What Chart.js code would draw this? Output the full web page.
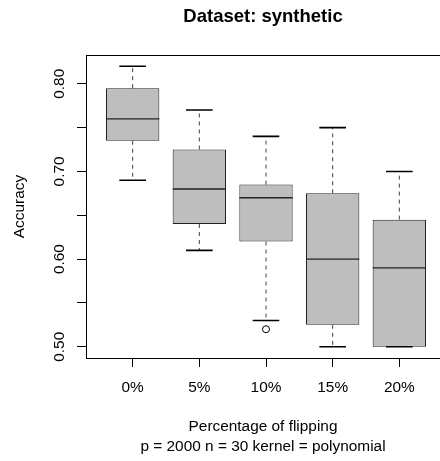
<!DOCTYPE html>
<html>
<head>
<meta charset="utf-8">
<title>Dataset: synthetic</title>
<script src="https://cdn.jsdelivr.net/npm/chart.js@4.4.1/dist/chart.umd.min.js"></script>
<style>
  html, body { margin: 0; padding: 0; background: #fff; }
  canvas { display: block; }
</style>
</head>
<body>
<canvas id="boxChart" width="440" height="461"></canvas>
<script>
const categories = ['0%', '5%', '10%', '15%', '20%'];
const positions = [1, 2, 3, 4, 5];
const whiskerLow = [0.69, 0.61, 0.53, 0.50, 0.50];
const q1 = [0.735, 0.64, 0.62, 0.525, 0.50];
const medians = [0.76, 0.68, 0.67, 0.60, 0.59];
const q3 = [0.795, 0.725, 0.685, 0.675, 0.645];
const whiskerHigh = [0.82, 0.77, 0.74, 0.75, 0.70];
const outlierPos = [3];
const outlierValues = [0.52];
const yTicks = [0.50, 0.55, 0.60, 0.65, 0.70, 0.75, 0.80];
const yTickLabels = ['0.50', '', '0.60', '', '0.70', '', '0.80'];

const fontFamily = '"Liberation Sans", Arial, Helvetica, sans-serif';
const baseSize = 15.4;

const boxes = positions.map((p, i) => ({ x: p, y: [q1[i], q3[i]] }));
const outlierPoints = outlierPos.map((p, i) => ({ x: p, y: outlierValues[i] }));

// whiskers, staples, medians, rotated y labels, top frame line
const boxplotExtras = {
    id: 'boxplotExtras',
    afterDatasetsDraw(chart) {
        const { ctx, chartArea, scales: { x, y } } = chart;
        ctx.save();

        positions.forEach((p, i) => {
            const cx = x.getPixelForValue(p);
            const boxL = x.getPixelForValue(p - 0.4);
            const boxR = x.getPixelForValue(p + 0.4);
            const capL = x.getPixelForValue(p - 0.2);
            const capR = x.getPixelForValue(p + 0.2);

            // dashed whiskers
            ctx.strokeStyle = '#444';
            ctx.lineWidth = 1;
            ctx.setLineDash([4, 4]);
            ctx.beginPath();
            ctx.moveTo(cx, y.getPixelForValue(q3[i]));
            ctx.lineTo(cx, y.getPixelForValue(whiskerHigh[i]));
            ctx.moveTo(cx, y.getPixelForValue(q1[i]));
            ctx.lineTo(cx, y.getPixelForValue(whiskerLow[i]));
            ctx.stroke();
            ctx.setLineDash([]);

            // staples
            ctx.strokeStyle = '#000';
            ctx.lineWidth = 1.6;
            ctx.beginPath();
            ctx.moveTo(capL, y.getPixelForValue(whiskerHigh[i]));
            ctx.lineTo(capR, y.getPixelForValue(whiskerHigh[i]));
            ctx.moveTo(capL, y.getPixelForValue(whiskerLow[i]));
            ctx.lineTo(capR, y.getPixelForValue(whiskerLow[i]));
            ctx.stroke();

            // median
            ctx.strokeStyle = '#222';
            ctx.lineWidth = 1.4;
            ctx.beginPath();
            ctx.moveTo(boxL, y.getPixelForValue(medians[i]));
            ctx.lineTo(boxR, y.getPixelForValue(medians[i]));
            ctx.stroke();
        });

        // top of the frame
        ctx.strokeStyle = '#000';
        ctx.lineWidth = 1;
        ctx.beginPath();
        ctx.moveTo(chartArea.left, Math.round(chartArea.top) + 0.5);
        ctx.lineTo(chartArea.right, Math.round(chartArea.top) + 0.5);
        ctx.stroke();

        // y tick labels, parallel to the axis
        ctx.fillStyle = '#000';
        ctx.font = baseSize + 'px ' + fontFamily;
        ctx.textAlign = 'center';
        ctx.textBaseline = 'alphabetic';
        yTicks.forEach((v, i) => {
            if (!yTickLabels[i]) return;
            ctx.save();
            ctx.translate(63.5, y.getPixelForValue(v));
            ctx.rotate(-Math.PI / 2);
            ctx.fillText(yTickLabels[i], 0, 0);
            ctx.restore();
        });

        ctx.restore();
    }
};

const ctx = document.getElementById('boxChart').getContext('2d');

new Chart(ctx, {
    type: 'bar',
    data: {
        datasets: [{
            label: 'Accuracy',
            data: boxes,
            backgroundColor: '#bebebe',
            borderColor: '#222',
            borderWidth: 1,
            borderSkipped: false,
            barPercentage: 0.8,
            categoryPercentage: 1.0
        }, {
            type: 'scatter',
            label: 'Outliers',
            data: outlierPoints,
            pointRadius: 3.5,
            pointBorderWidth: 1,
            pointBorderColor: '#000',
            pointBackgroundColor: 'rgba(0,0,0,0)'
        }]
    },
    options: {
        responsive: false,
        animation: false,
        devicePixelRatio: 1,
        layout: { padding: 0, autoPadding: false },
        plugins: {
            legend: { display: false },
            tooltip: { enabled: false },
            title: {
                display: true,
                fullSize: false,
                text: 'Dataset: synthetic',
                color: '#000',
                font: { family: fontFamily, size: 18.5, weight: 'bold', lineHeight: 1.2 },
                padding: { top: 5.5, bottom: 27.3 }
            }
        },
        scales: {
            x: {
                type: 'linear',
                min: 0.3,
                max: 5.61,
                offset: false,
                afterBuildTicks(scale) {
                    scale.ticks = positions.map(v => ({ value: v }));
                },
                afterFit(scale) {
                    scale.height = 103;
                    scale.paddingLeft = 0;
                    scale.paddingRight = 0;
                },
                grid: {
                    display: true,
                    offset: false,
                    drawOnChartArea: false,
                    drawTicks: true,
                    tickLength: 9,
                    color: '#000'
                },
                border: { display: true, color: '#000', width: 1 },
                ticks: {
                    autoSkip: false,
                    maxRotation: 0,
                    padding: 12,
                    color: '#000',
                    font: { family: fontFamily, size: baseSize },
                    callback: (v, i) => categories[i]
                },
                title: {
                    display: true,
                    text: ['Percentage of flipping', 'p = 2000 n = 30 kernel = polynomial'],
                    color: '#000',
                    font: { family: fontFamily, size: baseSize, lineHeight: 1.3 },
                    padding: { top: 0, bottom: 4.3 }
                }
            },
            y: {
                type: 'linear',
                min: 0.4872,
                max: 0.8328,
                afterBuildTicks(scale) {
                    scale.ticks = yTicks.map(v => ({ value: v }));
                },
                afterFit(scale) {
                    scale.width = 86;
                    scale.paddingTop = 0;
                    scale.paddingBottom = 0;
                },
                grid: {
                    display: true,
                    drawOnChartArea: false,
                    drawTicks: true,
                    tickLength: 9,
                    color: '#000'
                },
                border: { display: true, color: '#000', width: 1 },
                ticks: { display: false },
                title: {
                    display: true,
                    text: 'Accuracy',
                    color: '#000',
                    font: { family: fontFamily, size: baseSize, lineHeight: 1.2 },
                    padding: { top: 10.5, bottom: 0 }
                }
            }
        }
    },
    plugins: [boxplotExtras]
});
</script>
</body>
</html>
